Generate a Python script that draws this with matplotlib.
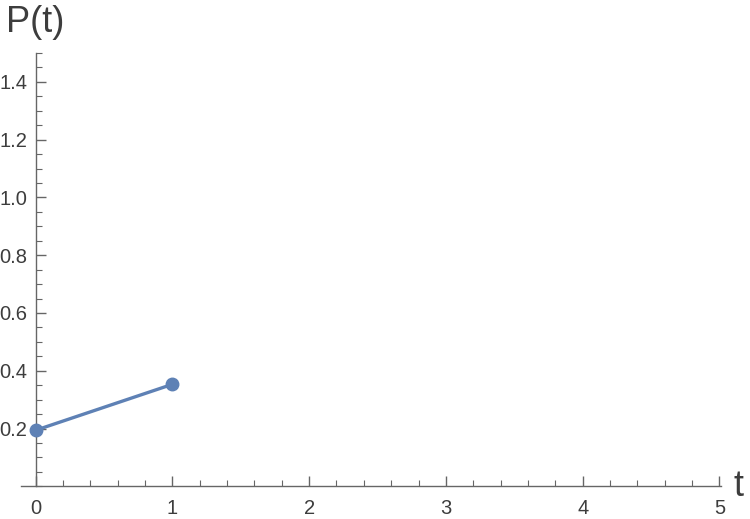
import numpy as np
import matplotlib as mpl
mpl.use('Agg')
import matplotlib.pyplot as plt
from matplotlib.ticker import MultipleLocator, FixedLocator

plt.rcParams['font.family'] = ['Liberation Sans', 'DejaVu Sans']

# --- data
t = [0, 1]
P = [0.194, 0.353]

xticks = [0, 1, 2, 3, 4, 5]
yticks = [0.2, 0.4, 0.6, 0.8, 1.0, 1.2, 1.4]

line_c = '#5E81B5'
axis_c = '#666666'
text_c = '#3d3d3d'

fig = plt.figure(figsize=(7.5, 5.19), dpi=100)
ax = fig.add_axes([0.028, 0.063, 0.933, 0.835])

ax.plot(t, P, c=line_c, lw=2.4, marker='o', ms=9, zorder=3, clip_on=False)

ax.set_xlim(-0.107, 5.01)
ax.set_ylim(0, 1.5)

for s in ['top', 'right']:
    ax.spines[s].set_visible(False)
ax.spines['left'].set_position(('data', 0))
ax.spines['left'].set_bounds(0, 1.5)
ax.spines['bottom'].set_position(('data', 0))
for s in ['left', 'bottom']:
    ax.spines[s].set_color(axis_c)
    ax.spines[s].set_linewidth(1.0)

ax.xaxis.set_major_locator(FixedLocator(xticks))
ax.yaxis.set_major_locator(FixedLocator(yticks))
ax.xaxis.set_minor_locator(MultipleLocator(0.2))
ax.yaxis.set_minor_locator(MultipleLocator(0.05))
ax.set_yticklabels([f'{v:.1f}' for v in yticks])

ax.tick_params(axis='both', which='major', direction='in', length=7.5, width=1.0,
               color=axis_c, labelcolor=text_c, labelsize=14.5)
ax.tick_params(axis='both', which='minor', direction='in', length=4.5, width=0.8,
               color=axis_c)
ax.tick_params(axis='x', which='major', pad=9)
ax.tick_params(axis='y', which='major', pad=6)

fig.text(0.008, 0.99, 'P(t)', fontsize=26, color=text_c, ha='left', va='top')
fig.text(0.984, 0.063, 't', fontsize=26, color=text_c, ha='center', va='center')

fig.savefig('out.png', dpi=100)
